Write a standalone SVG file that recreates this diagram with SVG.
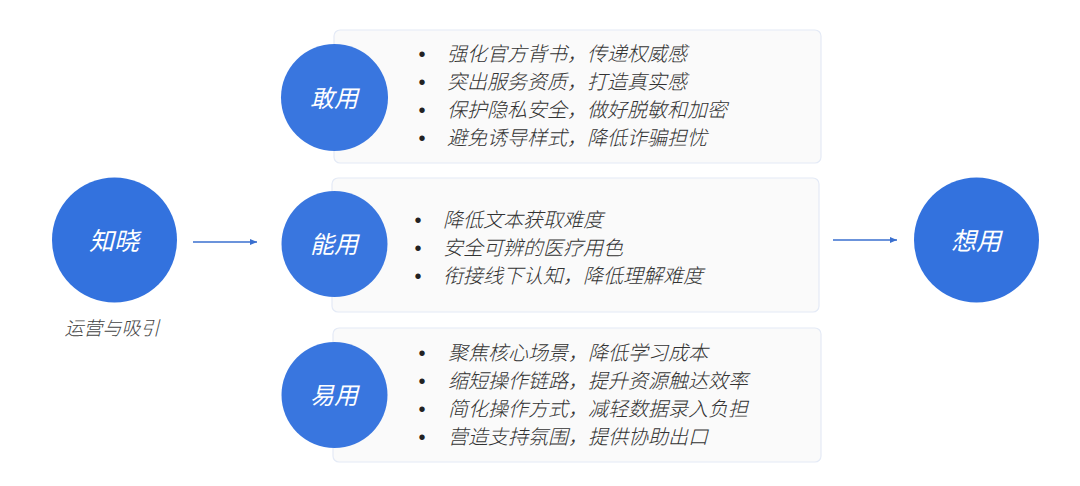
<svg xmlns="http://www.w3.org/2000/svg" width="1080" height="486" viewBox="0 0 1080 486">
<defs>
<style>
.box{fill:#fafafa;stroke:#e4eaf6;stroke-width:1.2}
.dot{fill:#3372de;fill-opacity:0.97}
.big{fill:#3372de}
.ct{font-family:"Noto Sans CJK SC","Noto Sans",sans-serif;font-style:italic;font-weight:400;fill:#fff;text-anchor:middle}
.lt{font-family:"Noto Sans CJK SC","Noto Sans",sans-serif;font-style:italic;font-weight:300;font-size:20px;fill:#333}
.bl{font-family:"Liberation Sans","Noto Sans CJK SC",sans-serif;font-size:20px;fill:#222;text-anchor:middle}
.sub{font-family:"Noto Sans CJK SC","Noto Sans",sans-serif;font-style:italic;font-weight:300;font-size:19px;fill:#444;text-anchor:middle}
.conn{stroke:#3a6fcf;stroke-width:1.3;fill:none}
</style>
<marker id="ah" markerWidth="8" markerHeight="8" refX="7" refY="4" orient="auto" markerUnits="userSpaceOnUse">
<path d="M0,1 L7,4 L0,7 Z" fill="#3a6fcf"/>
</marker>
</defs>
<rect width="1080" height="486" fill="#fff"/>
<g id="connectors">
<line class="conn" x1="193" y1="242" x2="257" y2="242" marker-end="url(#ah)"/>
<line class="conn" x1="833" y1="240" x2="897" y2="240" marker-end="url(#ah)"/>
</g>
<g id="zhixiao">
<circle class="big" cx="114.5" cy="240" r="62.5"/>
<text class="ct" x="114" y="250" font-size="25">知晓</text>
<text class="sub" x="112" y="335">运营与吸引</text>
</g>
<g id="ganyong">
<rect class="box" x="334" y="30" width="487" height="133" rx="6"/>
<circle class="dot" cx="334.5" cy="97.5" r="53.5"/>
<text class="ct" x="334" y="107" font-size="24">敢用</text>
<text class="bl" x="422" y="61">•</text>
<text class="lt" x="447" y="61">强化官方背书，传递权威感</text>
<text class="bl" x="422" y="89">•</text>
<text class="lt" x="447" y="89">突出服务资质，打造真实感</text>
<text class="bl" x="422" y="117">•</text>
<text class="lt" x="447" y="117">保护隐私安全，做好脱敏和加密</text>
<text class="bl" x="422" y="145">•</text>
<text class="lt" x="447" y="145">避免诱导样式，降低诈骗担忧</text>
</g>
<g id="nengyong">
<rect class="box" x="332" y="178" width="487" height="134" rx="6"/>
<circle class="dot" cx="334.5" cy="244" r="53"/>
<text class="ct" x="334" y="253" font-size="24">能用</text>
<text class="bl" x="418" y="227">•</text>
<text class="lt" x="443" y="227">降低文本获取难度</text>
<text class="bl" x="418" y="255">•</text>
<text class="lt" x="443" y="255">安全可辨的医疗用色</text>
<text class="bl" x="418" y="283">•</text>
<text class="lt" x="443" y="283">衔接线下认知，降低理解难度</text>
</g>
<g id="yiyong">
<rect class="box" x="333" y="328" width="488" height="134" rx="6"/>
<circle class="dot" cx="334.5" cy="395" r="53"/>
<text class="ct" x="334" y="404" font-size="24">易用</text>
<text class="bl" x="422" y="360">•</text>
<text class="lt" x="448" y="360">聚焦核心场景，降低学习成本</text>
<text class="bl" x="422" y="388">•</text>
<text class="lt" x="448" y="388">缩短操作链路，提升资源触达效率</text>
<text class="bl" x="422" y="416">•</text>
<text class="lt" x="448" y="416">简化操作方式，减轻数据录入负担</text>
<text class="bl" x="422" y="444">•</text>
<text class="lt" x="448" y="444">营造支持氛围，提供协助出口</text>
</g>
<g id="xiangyong">
<circle class="big" cx="976.5" cy="240" r="62.5"/>
<text class="ct" x="976" y="250" font-size="25">想用</text>
</g>
</svg>
